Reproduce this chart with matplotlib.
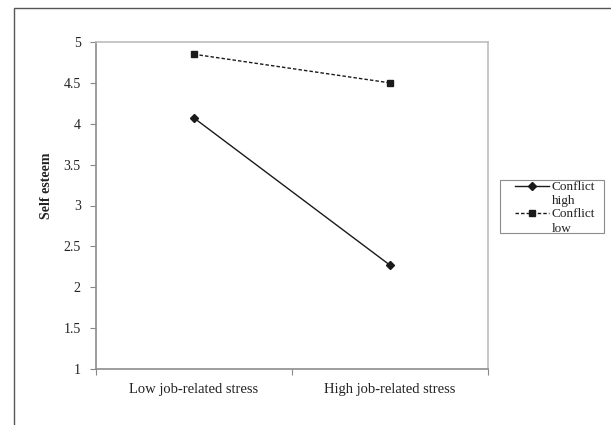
import matplotlib
matplotlib.use("Agg")
from matplotlib import pyplot as plt
from matplotlib.patches import Rectangle
from matplotlib.legend_handler import HandlerLine2D
import numpy as np

# values
categories = ["Low job-related stress", "High job-related stress"]
conflict_high = [4.07, 2.27]
conflict_low = [4.85, 4.50]
series_labels = ["Conflict\nhigh", "Conflict\nlow"]
y_ticks = [1, 1.5, 2, 2.5, 3, 3.5, 4, 4.5, 5]
y_tick_labels = ["1", "1.5", "2", "2.5", "3", "3.5", "4", "4.5", "5"]

plt.rcParams['font.family'] = ['Liberation Serif', 'DejaVu Serif']

W, H = 611, 425
fig = plt.figure(figsize=(W / 100, H / 100), dpi=100)
fig.patch.set_facecolor("white")

# outer chart frame (runs off right and bottom edges)
fig.patches.append(Rectangle((13.5 / W, -0.05), 1.0, (H - 8) / H + 0.05,
                             transform=fig.transFigure, fill=False,
                             edgecolor="#555555", linewidth=1.0))

ax = fig.add_axes([96 / W, (H - 369) / H, (488 - 96) / W, (369 - 42) / H])

x = np.arange(len(categories)) + 0.5
ax.plot(x, conflict_high, color="#1a1a1a", lw=1.0, marker="D", ms=4.5,
        label=series_labels[0])
ax.plot(x, conflict_low, color="#1a1a1a", lw=1.0, ls=(0, (2.5, 1.5)),
        marker="s", ms=5, label=series_labels[1])

ax.set_xlim(0, len(categories))
ax.set_ylim(1, 5)
ax.set_yticks(y_ticks)
ax.set_yticklabels(y_tick_labels)
ax.set_xticks(np.arange(len(categories) + 1))
ax.set_xticklabels([])
ax.set_xticks(x, minor=True)
ax.set_xticklabels(categories, minor=True)

ax.tick_params(axis="y", direction="out", length=4, width=0.8, color="#888888",
               pad=7, labelsize=10, labelcolor="#222222")
ax.tick_params(axis="x", which="major", direction="out", length=4, width=0.8,
               color="#888888")
ax.tick_params(axis="x", which="minor", length=0, pad=10, labelsize=10.5,
               labelcolor="#222222")

for side in ["left", "bottom"]:
    ax.spines[side].set_color("#8c8c8c")
    ax.spines[side].set_linewidth(1.2)
for side in ["top", "right"]:
    ax.spines[side].set_color("#bdbdbd")
    ax.spines[side].set_linewidth(1.2)

fig.text(47 / W, (H - 186) / H, "Self esteem", rotation=90, ha="center",
         va="center", fontsize=10, fontweight="bold", color="#222222")


# legend handle sits next to the first line of a two-line label
class TopLineHandler(HandlerLine2D):
    def create_artists(self, legend, orig_handle, xdescent, ydescent,
                       width, height, fontsize, trans):
        arts = super().create_artists(legend, orig_handle, xdescent, ydescent,
                                      width, height, fontsize, trans)
        for a in arts:
            a.set_ydata(np.asarray(a.get_ydata()) + fontsize * 0.6)
        return arts


# legend box drawn separately so the inner padding matches
fig.patches.append(Rectangle((500 / W, (H - 233) / H), 104 / W, 53 / H,
                             transform=fig.transFigure, fill=False,
                             edgecolor="#8c8c8c", linewidth=0.8))
leg = ax.legend(loc="upper left", bbox_to_anchor=(514 / W, (H - 180) / H),
                bbox_transform=fig.transFigure, fontsize=9.5, frameon=False,
                handlelength=2.6, handletextpad=0.2, labelspacing=0.05,
                borderpad=0.05, borderaxespad=0,
                handler_map={matplotlib.lines.Line2D: TopLineHandler()})
for t in leg.get_texts():
    t.set_color("#222222")
    t.set_linespacing(1.3)

fig.savefig("out.png", dpi=100)
